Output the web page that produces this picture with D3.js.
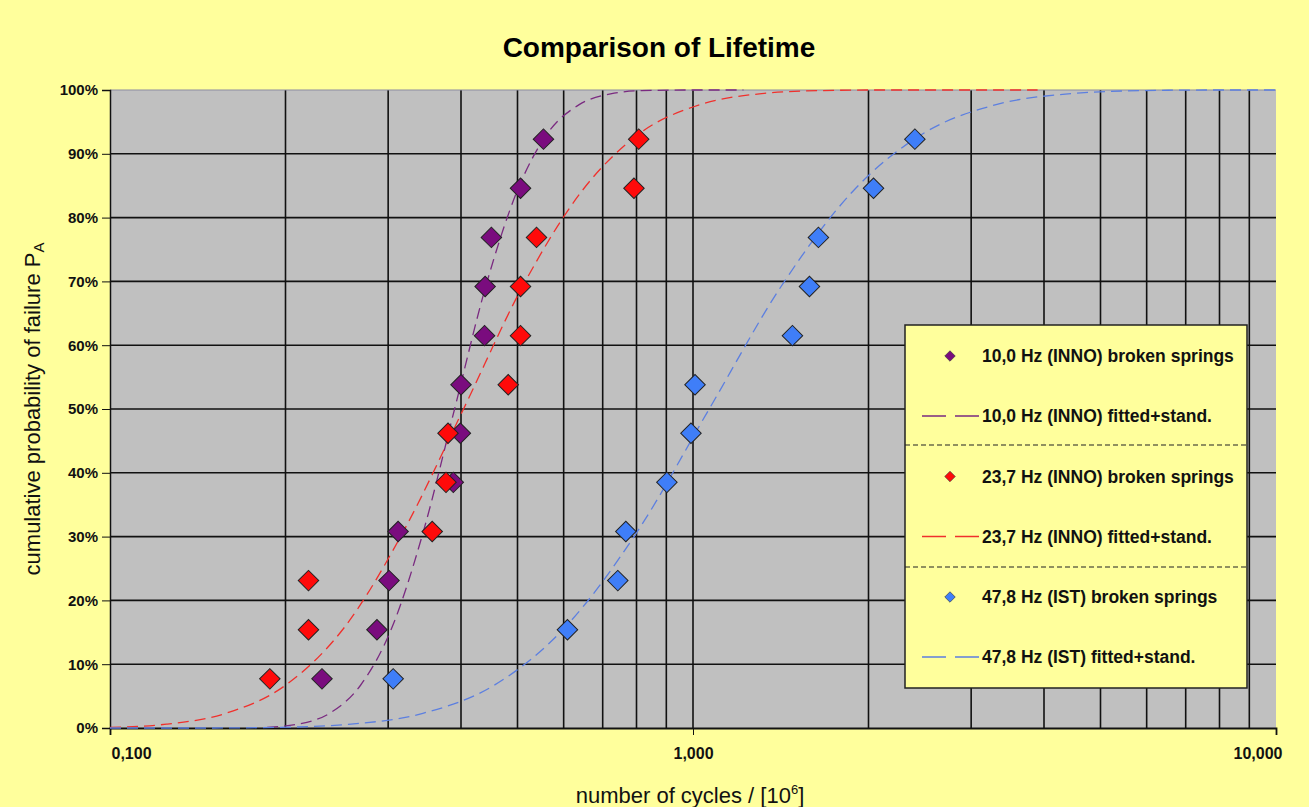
<!DOCTYPE html>
<html>
<head>
<meta charset="utf-8">
<script src="https://cdn.jsdelivr.net/npm/d3@7"></script>
<style>
  body { margin: 0; background: #ffff9c; }
  svg { display: block; font-family: Arial, "Liberation Sans", sans-serif; }
</style>
</head>
<body>
<svg width="1309" height="807"></svg>
<script>
// cumulative probability (median ranks, 12 springs per series)
const probs = [7.7, 15.4, 23.1, 30.8, 38.5, 46.2, 53.8, 61.5, 69.2, 76.9, 84.6, 92.3];

// broken springs, number of cycles / 10^6
const cycles10 = [0.231, 0.287, 0.301, 0.312, 0.388, 0.399, 0.400, 0.439, 0.440, 0.451, 0.506, 0.554];
const cycles23 = [0.188, 0.219, 0.219, 0.357, 0.377, 0.380, 0.482, 0.506, 0.506, 0.539, 0.792, 0.807];
const cycles47 = [0.306, 0.609, 0.743, 0.767, 0.902, 0.992, 1.008, 1.481, 1.584, 1.641, 2.040, 2.402];

// fitted curves
const fit10X = [0.186, 0.210, 0.238, 0.269, 0.305, 0.345, 0.390, 0.441, 0.499, 0.564, 0.638, 0.722, 0.816, 1.0, 1.22];
const fit10P = [0.1, 0.6, 2.3, 6.7, 15.9, 30.9, 50.0, 69.2, 84.1, 93.3, 97.7, 99.4, 99.9, 100, 100];
const fit23X = [0.1, 0.125, 0.158, 0.200, 0.253, 0.319, 0.404, 0.510, 0.644, 0.813, 1.028, 1.30, 1.64, 2.07, 3.9];
const fit23P = [0.1, 0.6, 2.3, 6.7, 15.9, 30.9, 50.0, 69.2, 84.1, 93.3, 97.7, 99.4, 99.9, 100, 100];
const fit47X = [0.1, 0.147, 0.195, 0.259, 0.344, 0.456, 0.605, 0.804, 1.066, 1.416, 1.879, 2.495, 3.31, 4.40, 5.83, 7.74, 10];
const fit47P = [0.0, 0.0, 0.1, 0.6, 2.3, 6.7, 15.9, 30.9, 50.0, 69.2, 84.1, 93.3, 97.7, 99.4, 99.9, 100, 100];

const yTicks = [0, 10, 20, 30, 40, 50, 60, 70, 80, 90, 100];
const xTickValues = [0.1, 1, 10];
const xTickLabels = ["0,100", "1,000", "10,000"];

const series = [
  {label: "10,0 Hz (INNO)", x: cycles10, fx: fit10X, fp: fit10P, fill: "#7a0c7e", line: "#7a2a80"},
  {label: "23,7 Hz (INNO)", x: cycles23, fx: fit23X, fp: fit23P, fill: "#ff0a0a", line: "#f0302c"},
  {label: "47,8 Hz (IST)",  x: cycles47, fx: fit47X, fp: fit47P, fill: "#3f7ef8", line: "#5c7fe0"}
];

const svg = d3.select("svg");
const margin = {top: 90, right: 33, bottom: 79, left: 110};
const width = +svg.attr("width") - margin.left - margin.right;
const height = +svg.attr("height") - margin.top - margin.bottom;

const x = d3.scaleLog().domain([0.1, 10]).range([0, width]);
const y = d3.scaleLinear().domain([0, 100]).range([height, 0]);

svg.append("text")
  .attr("x", 659).attr("y", 57)
  .attr("text-anchor", "middle")
  .attr("font-size", 28).attr("font-weight", "bold")
  .text("Comparison of Lifetime");

const g = svg.append("g").attr("transform", "translate(" + margin.left + "," + margin.top + ")");

g.append("rect").attr("width", width).attr("height", height).attr("fill", "#c0c0c0");

// grid
g.append("g").selectAll("line")
  .data(x.ticks().filter(d => d > 0.1 && d < 10))
  .enter().append("line")
  .attr("x1", d => x(d)).attr("x2", d => x(d))
  .attr("y1", 0).attr("y2", height)
  .attr("stroke", "#111").attr("stroke-width", 1.6);

g.append("g").selectAll("line")
  .data(yTicks.filter(d => d > 0))
  .enter().append("line")
  .attr("x1", 0).attr("x2", width)
  .attr("y1", d => y(d)).attr("y2", d => y(d))
  .attr("stroke", d => d === 100 ? "#8b8ba0" : "#111")
  .attr("stroke-width", d => d === 100 ? 1.2 : 1.6);

// axes
const yAxis = g.append("g")
  .call(d3.axisLeft(y).tickValues(yTicks).tickSize(8).tickPadding(4).tickFormat(d => d + "%"));
yAxis.selectAll("text").attr("font-size", 15).attr("font-weight", "bold").attr("fill", "#111");
yAxis.selectAll("line, path").attr("stroke", "#111");
yAxis.select(".domain").attr("stroke-width", 1.5);

const xAxis = g.append("g")
  .attr("transform", "translate(0," + height + ")")
  .call(d3.axisBottom(x).tickValues(xTickValues).tickSize(7).tickPadding(13)
    .tickFormat((d, i) => xTickLabels[i]));
xAxis.selectAll("text").attr("font-size", 16).attr("font-weight", "bold").attr("fill", "#111");
xAxis.selectAll("line, path").attr("stroke", "#111");
xAxis.select(".domain").attr("stroke-width", 1.8);
xAxis.selectAll(".tick text").filter((d, i) => i === 0).attr("text-anchor", "start").attr("dx", 1);
xAxis.selectAll(".tick text").filter((d, i) => i === 2).attr("text-anchor", "end").attr("dx", 6);

// fitted curves
const line = d3.line().x(d => x(d[0])).y(d => y(d[1])).curve(d3.curveMonotoneX);
series.forEach(s => {
  g.append("path")
    .datum(s.fx.map((v, i) => [v, s.fp[i]]))
    .attr("d", line)
    .attr("fill", "none")
    .attr("stroke", s.line)
    .attr("stroke-width", 1.3)
    .attr("stroke-dasharray", "11,6");
});

// broken springs
const diamond = d3.symbol().type(d3.symbolSquare).size(210);
series.forEach(s => {
  g.append("g").selectAll("path")
    .data(s.x.map((v, i) => [v, probs[i]]))
    .enter().append("path")
    .attr("d", diamond)
    .attr("transform", d => "translate(" + x(d[0]) + "," + y(d[1]) + ") rotate(45)")
    .attr("fill", s.fill)
    .attr("stroke", "#222")
    .attr("stroke-width", 1);
});

// legend
const lg = svg.append("g").attr("transform", "translate(905,325)");
lg.append("rect").attr("width", 342).attr("height", 363)
  .attr("fill", "#ffff9c").attr("stroke", "#222").attr("stroke-width", 1.5);
[120, 242].forEach(yy => {
  lg.append("line").attr("x1", 0).attr("x2", 342).attr("y1", yy).attr("y2", yy)
    .attr("stroke", "#222").attr("stroke-width", 1.2).attr("stroke-dasharray", "5,3");
});
const smallDiamond = d3.symbol().type(d3.symbolSquare).size(55);
series.forEach((s, i) => {
  const y0 = 31 + i * 120.5;
  lg.append("path").attr("d", smallDiamond)
    .attr("transform", "translate(45," + y0 + ") rotate(45)")
    .attr("fill", s.fill).attr("stroke", "#333").attr("stroke-width", 0.6);
  lg.append("text").attr("x", 77).attr("y", y0 + 6)
    .attr("font-size", 17.5).attr("font-weight", "bold").attr("fill", "#111")
    .text(s.label + " broken springs");
  const y1 = y0 + 60;
  lg.append("line").attr("x1", 17).attr("x2", 74).attr("y1", y1).attr("y2", y1)
    .attr("stroke", s.line).attr("stroke-width", 1.3).attr("stroke-dasharray", "24,9");
  lg.append("text").attr("x", 77).attr("y", y1 + 6)
    .attr("font-size", 17.5).attr("font-weight", "bold").attr("fill", "#111")
    .text(s.label + " fitted+stand.");
});

// axis titles
svg.append("text")
  .attr("transform", "translate(40," + (margin.top + height / 2) + ") rotate(-90)")
  .attr("text-anchor", "middle")
  .attr("font-size", 22).attr("fill", "#111")
  .text("cumulative probability of failure P")
  .append("tspan").attr("font-size", 15).attr("dy", 4).text("A");

svg.append("text")
  .attr("x", 690).attr("y", 803)
  .attr("text-anchor", "middle")
  .attr("font-size", 22).attr("fill", "#111")
  .text("number of cycles / [10")
  .append("tspan").attr("font-size", 13).attr("dy", -9).text("6")
  .select(function() { return this.parentNode; })
  .append("tspan").attr("dy", 9).attr("font-size", 22).text("]");
</script>
</body>
</html>
